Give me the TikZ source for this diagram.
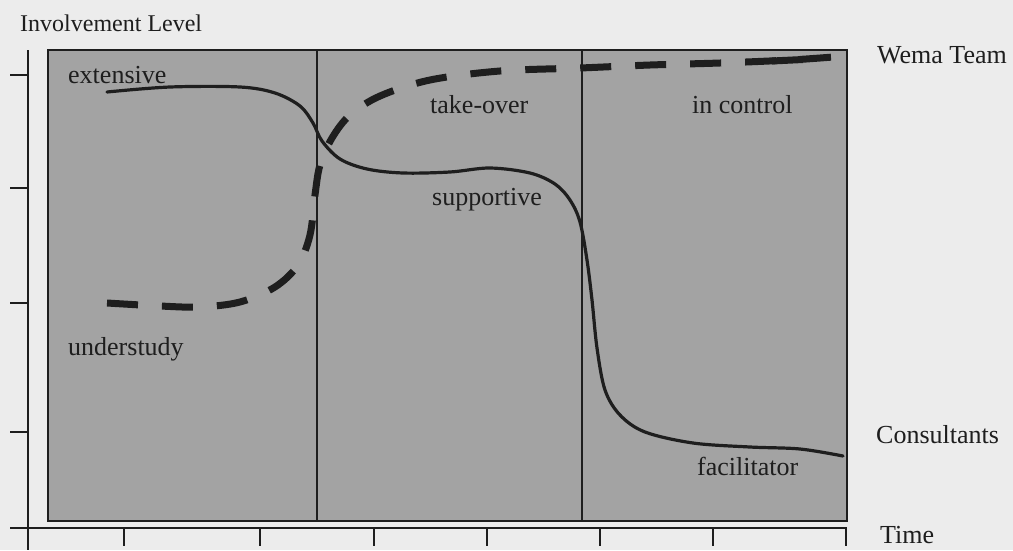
\documentclass[tikz,border=0pt]{standalone}
\usepackage{fontspec}
\setmainfont{Liberation Serif}
\definecolor{paper}{RGB}{236,236,236}
\definecolor{panel}{RGB}{163,163,163}
\definecolor{ink}{RGB}{30,30,30}
\tikzset{
  axis/.style={ink, line width=2pt},
  tick/.style={ink, line width=1.8pt},
  frame/.style={ink, line width=1.5pt},
  consult/.style={ink, line width=3.2pt, line cap=round},
  team/.style={ink, line width=7pt, dash pattern=on 31pt off 24pt},
  lbl/.style={anchor=base west, inner sep=0pt, text=ink, font=\fontsize{26}{30}\selectfont},
}
\begin{document}
\begin{tikzpicture}[x=1pt, y=-1pt]
  % page
  \fill[paper] (0,0) rectangle (1013,550);
  \useasboundingbox (0,0) rectangle (1013,550);

  % shaded phase panel with its two dividers
  \draw[frame, fill=panel] (48,50) rectangle (847,521);
  \draw[frame] (317,50) -- (317,521);
  \draw[frame] (582,50) -- (582,521);

  % axes
  \draw[axis] (28,50) -- (28,550);
  \draw[axis] (10,528) -- (847,528);
  \foreach \y in {75,188,303,432} \draw[tick] (10,\y) -- (28,\y);
  \foreach \x in {124,260,374,487,600,713,846} \draw[tick] (\x,528) -- (\x,546);

  % consultants' involvement
  \draw[consult] plot[smooth, tension=0.55] coordinates {
    (107,92) (170,87) (240,87) (275,93) (300,106) (313,123) (322,141)
    (340,159) (367,169) (403,173) (450,172) (490,168) (530,173) (555,184)
    (570,200) (580,222) (587,260) (592,300) (597,348) (605,390) (620,415)
    (645,432) (693,443) (750,447) (800,449) (843,456)};

  % team's involvement
  \draw[team] plot[smooth, tension=0.55] coordinates {
    (107,303) (160,306) (200,307) (240,302) (275,287) (298,265) (310,235)
    (315,195) (320,165) (332,138) (350,115) (380,96) (430,80) (500,71)
    (580,68) (650,65) (720,63) (790,60) (833,57)};
  % the last two dashes run together
  \draw[ink, line width=7pt] (772,61) -- (803,59.5);

  % labels
  \node[lbl, font=\fontsize{24}{28}\selectfont] (ylab) at (20,31) {Involvement Level};
  \node[lbl] (ext) at (68,83) {extensive};
  \node[lbl] (und) at (68,355) {understudy};
  \node[lbl] (tko) at (430,113) {take-over};
  \node[lbl] (ctl) at (692,113) {in control};
  \node[lbl] (sup) at (432,205) {supportive};
  \node[lbl] (fac) at (697,475) {facilitator};
  \node[lbl] (wema) at (877,63) {Wema Team};
  \node[lbl] (cons) at (876,443) {Consultants};
  \node[lbl] (time) at (880,543) {Time};
\end{tikzpicture}
\end{document}
